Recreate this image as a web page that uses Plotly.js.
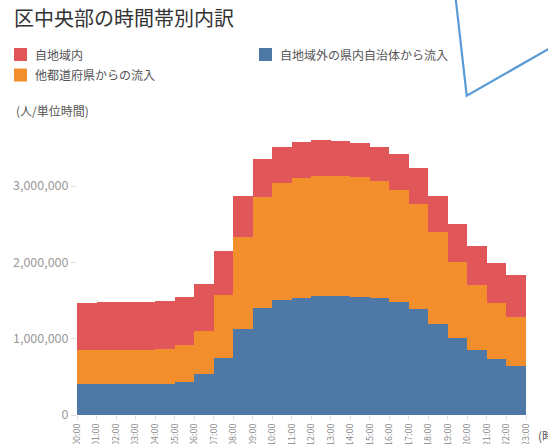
<!DOCTYPE html>
<html>
<head>
<meta charset="utf-8">
<script src="https://cdn.plot.ly/plotly-3.0.1.min.js"></script>
<style>html,body{margin:0;padding:0;background:#fff;}#chart{width:548px;height:444px;}</style>
</head>
<body>
<div id="chart"></div>
<script>
// Tick labels (hours)
const hourLabels = ['00:00','01:00','02:00','03:00','04:00','05:00','06:00','07:00','08:00','09:00','10:00','11:00',
  '12:00','13:00','14:00','15:00','16:00','17:00','18:00','19:00','20:00','21:00','22:00','23:00'];
// Step segments (value of each hour, shown until the next hour)
const hourIndex = [0,1,2,3,4,5,6,7,8,9,10,11,12,13,14,15,16,17,18,19,20,21,22];
const seriesNames = ['自地域内', '自地域外の県内自治体から流入', '他都道府県からの流入'];
const outsideInPref = [410000,410000,410000,410000,410000,436000,532000,746000,1122000,1397000,1502000,1537000,
  1558000,1558000,1550000,1528000,1476000,1384000,1197000,1008000,851000,729000,637000];
const otherPref = [441000,441000,441000,441000,454000,480000,573000,821000,1215000,1464000,1533000,1573000,
  1578000,1578000,1568000,1538000,1477000,1385000,1196000,1001000,857000,738000,642000];
const ownArea = [612000,625000,625000,625000,625000,625000,611000,586000,537000,493000,476000,467000,
  472000,459000,446000,445000,472000,463000,481000,493000,502000,529000,551000];
const yTicks = [0, 1000000, 2000000, 3000000];

const colors = {red:'#E15759', blue:'#4E79A7', orange:'#F28E2B'};
const W = 548, H = 444;
const M = {l:77, r:22, t:120, b:29};
const pw = W - M.l - M.r, ph = H - M.t - M.b;
const px = x => (x - M.l) / pw;
const py = y => (H - M.b - y) / ph;
const FONT = 'Noto Sans CJK JP, Noto Sans, sans-serif';

function barTrace(name, vals, color){
  return {type:'bar', name:name, x:hourIndex, y:vals, offset:0, width:1,
    marker:{color:color, line:{width:0}}, showlegend:false, hoverinfo:'skip'};
}
const data = [
  barTrace(seriesNames[1], outsideInPref, colors.blue),
  barTrace(seriesNames[2], otherPref, colors.orange),
  barTrace(seriesNames[0], ownArea, colors.red)
];

// manual legend
const legendItems = [
  {name:seriesNames[0], color:colors.red, x:14, y:54.5},
  {name:seriesNames[2], color:colors.orange, x:14, y:75},
  {name:seriesNames[1], color:colors.blue, x:259, y:54.5}
];
const shapes = [];
const annotations = [];
legendItems.forEach(it => {
  shapes.push({type:'rect', xref:'paper', yref:'paper', x0:px(it.x), x1:px(it.x+13), y0:py(it.y-6.5), y1:py(it.y+6.5),
    fillcolor:it.color, line:{width:0}});
  annotations.push({xref:'paper', yref:'paper', x:px(it.x+19), y:py(it.y), xanchor:'left', yanchor:'middle',
    text:it.name, showarrow:false, font:{family:FONT, size:12, color:'#555'}});
});
annotations.push({xref:'paper', yref:'paper', x:px(14), y:py(110), xanchor:'left', yanchor:'middle',
  text:'(人/単位時間)', showarrow:false, font:{family:FONT, size:12, color:'#555'}});
annotations.push({xref:'paper', yref:'paper', x:px(536), y:py(435), xanchor:'left', yanchor:'middle',
  text:'(時間帯)', showarrow:false, font:{family:FONT, size:12, color:'#555'}});
// decorative blue stroke
shapes.push({type:'path', xref:'paper', yref:'paper',
  path:`M ${px(454.5)} ${py(-12)} L ${px(466.7)} ${py(95.7)} L ${px(565)} ${py(39.6)}`,
  line:{color:'#5B9BD5', width:2.2}});

const layout = {
  width:W, height:H,
  margin:{l:M.l, r:M.r, t:M.t, b:M.b, pad:0},
  paper_bgcolor:'#fff', plot_bgcolor:'#fff',
  font:{family:FONT, color:'#555'},
  title:{text:'区中央部の時間帯別内訳', xref:'container', yref:'container', x:14/W, xanchor:'left',
    y:1-19/H, yanchor:'middle', font:{family:FONT, size:20, color:'#333'}},
  barmode:'stack', bargap:0,
  showlegend:false,
  xaxis:{range:[0,23], tickvals:hourLabels.map((_,i)=>i), ticktext:hourLabels, tickangle:-90,
    tickfont:{family:FONT, size:9, color:'#888'}, ticks:'outside', ticklen:4, tickcolor:'#ddd',
    showgrid:false, zeroline:false, showline:false, fixedrange:true},
  yaxis:{range:[0, ph/76.3*1e6], tickvals:yTicks, ticktext:yTicks.map(v=>v.toLocaleString('en-US')),
    tickfont:{family:FONT, size:12.5, color:'#999'}, ticks:'outside', ticklen:5, tickcolor:'#e0e0e0',
    showgrid:false, zeroline:false, showline:false, fixedrange:true},
  shapes:shapes, annotations:annotations
};
Plotly.newPlot('chart', data, layout, {displayModeBar:false, staticPlot:true});
</script>
</body>
</html>
